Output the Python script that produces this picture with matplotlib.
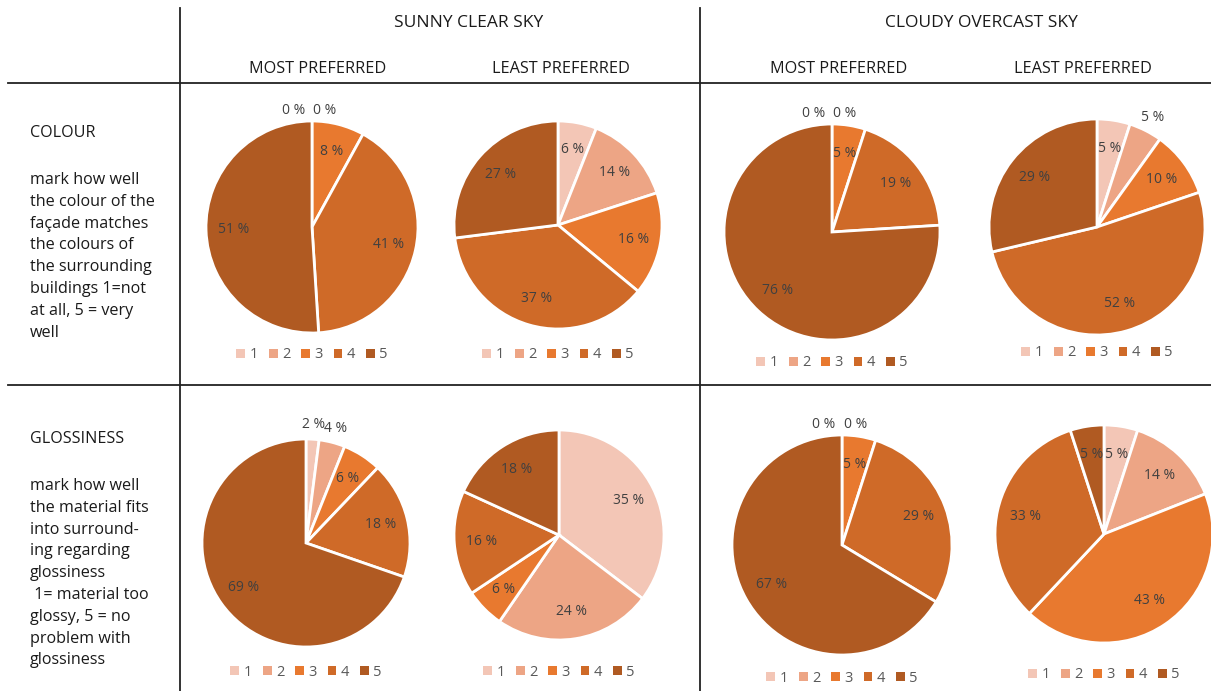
import numpy as np
import matplotlib
matplotlib.use("Agg")
import matplotlib.pyplot as plt
import matplotlib.patches as mpatches

plt.rcParams['font.family'] = ['Open Sans', 'DejaVu Sans']

categories = ['1', '2', '3', '4', '5']
colors = ['#F3C6B6', '#EDA585', '#E8792F', '#CF6A28', '#B05A22']

# percentages per rating 1..5
colour_sunny_most = [0, 0, 8, 41, 51]
colour_sunny_least = [6, 14, 16, 37, 27]
colour_cloudy_most = [0, 0, 5, 19, 76]
colour_cloudy_least = [5, 5, 10, 52, 29]
gloss_sunny_most = [2, 4, 6, 18, 69]
gloss_sunny_least = [35, 24, 6, 16, 18]
gloss_cloudy_most = [0, 0, 5, 29, 67]
gloss_cloudy_least = [5, 14, 43, 33, 5]

sky_headers = ['SUNNY CLEAR SKY', 'CLOUDY OVERCAST SKY']
pref_headers = ['MOST PREFERRED', 'LEAST PREFERRED', 'MOST PREFERRED', 'LEAST PREFERRED']
row_titles = ['COLOUR', 'GLOSSINESS']
row_texts = [
    ['mark how well', 'the colour of the', 'façade matches', 'the colours of',
     'the surrounding', 'buildings 1=not', 'at all, 5 = very', 'well'],
    ['mark how well', 'the material fits', 'into surround-', 'ing regarding',
     'glossiness', ' 1= material too', 'glossy, 5 = no', 'problem with', 'glossiness'],
]

W, H = 1211, 691
fig = plt.figure(figsize=(W / 100, H / 100), dpi=100)
fig.patch.set_facecolor('white')


def px(x, y):
    return x / W, 1 - y / H


# grid lines
line_ax = fig.add_axes([0, 0, 1, 1])
line_ax.set_xlim(0, W)
line_ax.set_ylim(H, 0)
line_ax.axis('off')
for x in (180, 700):
    line_ax.plot([x, x], [8, H], color='#222222', lw=1.3)
for y in (83, 385):
    line_ax.plot([8, W], [y, y], color='#222222', lw=1.3)

# headers
line_ax.text(469, 23, sky_headers[0], fontsize=12.5, color='#1a1a1a', ha='center', va='center')
line_ax.text(981, 23, sky_headers[1], fontsize=12.5, color='#1a1a1a', ha='center', va='center')
for x, t in zip([318, 561, 839, 1083], pref_headers):
    line_ax.text(x, 69, t, fontsize=11.7, color='#1a1a1a', ha='center', va='center')

# row descriptions
for y0, title, lines in zip([133, 439], row_titles, row_texts):
    line_ax.text(30, y0, title, fontsize=11.6, color='#1a1a1a', va='center')
    for i, ln in enumerate(lines):
        line_ax.text(30, y0 + 47 + i * 21.8, ln, fontsize=11.6, color='#1a1a1a', va='center')

panels = [
    (colour_sunny_most, 312, 227, 106, 355),
    (colour_sunny_least, 558, 225, 104, 355),
    (colour_cloudy_most, 832, 232, 108, 363),
    (colour_cloudy_least, 1097, 227, 108, 353),
    (gloss_sunny_most, 306, 543, 104, 672),
    (gloss_sunny_least, 559, 535, 105, 672),
    (gloss_cloudy_most, 842, 545, 110, 678),
    (gloss_cloudy_least, 1104, 534, 109, 675),
]

handles = [mpatches.Patch(facecolor=c, edgecolor='none') for c in colors]

for vals, cx, cy, r, ly in panels:
    x0, y0 = px(cx - r, cy + r)
    ax = fig.add_axes([x0, y0, 2 * r / W, 2 * r / H])
    wedges, _ = ax.pie(vals, colors=colors, startangle=90, counterclock=False,
                       radius=1, wedgeprops=dict(edgecolor='white', linewidth=2))
    ax.set_xlim(-1, 1)
    ax.set_ylim(-1, 1)
    ax.set_aspect('equal')
    ax.axis('off')

    zero_idx = 0
    prev = None
    for w, v in zip(wedges, vals):
        mid = np.deg2rad((w.theta1 + w.theta2) / 2)
        if v == 0:
            x, y = (-0.17 if zero_idx == 0 else 0.12), 1.1
            zero_idx += 1
        elif v < 5 or (v <= 5 and prev is not None and 0 < prev <= 5):
            x, y = 1.14 * np.cos(mid), 1.14 * np.sin(mid)
        else:
            x, y = 0.74 * np.cos(mid), 0.74 * np.sin(mid)
        ax.text(x, y, f'{v} %', ha='center', va='center', fontsize=10,
                color='#404040', clip_on=False)
        prev = v

    lx, lyy = px(cx, ly)
    fig.legend(handles, categories, loc='center', bbox_to_anchor=(lx, lyy), ncol=5,
               frameon=False, fontsize=10.5, handlelength=0.6, handleheight=0.6,
               handletextpad=0.3, columnspacing=0.75, labelcolor='#595959',
               borderpad=0)

fig.savefig('out.png', dpi=100, facecolor='white')
